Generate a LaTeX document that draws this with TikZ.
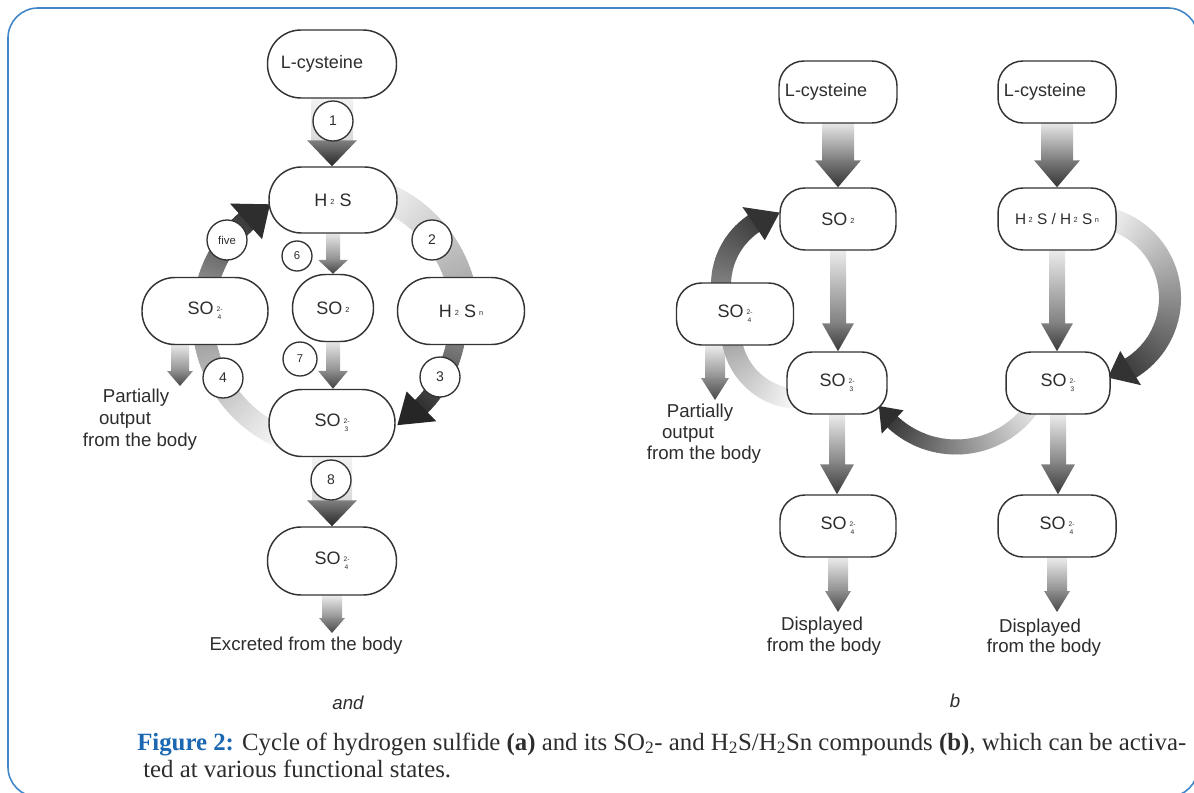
\documentclass[tikz,border=0pt]{standalone}
\usepackage{fontspec}
\setmainfont{Liberation Sans}
\newfontfamily\capfont{Liberation Serif}
\usetikzlibrary{calc}
\pgfdeclarelayer{bg}
\pgfsetlayers{bg,main}
\definecolor{figblue}{RGB}{28,103,178}
\definecolor{framblue}{RGB}{66,135,200}
\definecolor{txt}{RGB}{45,45,45}
\newcommand{\tsub}[1]{\,\raisebox{0.1em}{\fontsize{5.5}{5.5}\selectfont #1}}
\newcommand{\tion}[2]{\,\raisebox{-0.3em}{\fontsize{5}{4.6}\selectfont\shortstack{#1\\#2}}}
% gradient band along a circle arc: centre, radius, half width, start angle, end angle, start shade, end shade
\newcommand{\gband}[7]{%
  \pgfmathsetmacro{\gri}{#2-#3}%
  \pgfmathsetmacro{\gro}{#2+#3}%
  \pgfmathtruncatemacro{\gN}{max(2,int(abs(#5-#4)/1.5))}%
  \pgfmathsetmacro{\gS}{(#5-#4)/\gN}%
  \foreach \gi in {1,...,\gN}{%
    \pgfmathsetmacro{\ga}{#4+(\gi-1)*\gS}%
    \pgfmathsetmacro{\gb}{#4+\gi*\gS+0.4*sign(\gS)}%
    \pgfmathsetmacro{\gc}{#6+(#7-#6)*(\gi-0.5)/\gN}%
    \fill[black!\gc] ($(#1)+(\ga:\gri)$) -- ($(#1)+(\gb:\gri)$) -- ($(#1)+(\gb:\gro)$) -- ($(#1)+(\ga:\gro)$) -- cycle;
  }}
% arrow head on a circle arc: centre, radius, head half width, base angle, tip angle, shade
\newcommand{\ghead}[6]{%
  \pgfmathsetmacro{\hri}{#2-#3}%
  \pgfmathsetmacro{\hro}{#2+#3}%
  \fill[black!#6] ($(#1)+(#4:\hri)$) -- ($(#1)+(#5:#2)$) -- ($(#1)+(#4:\hro)$) -- cycle;}
% straight vertical gradient arrow: from, to, shaft hw, head hw, head length,
% shaft top shade, shaft bottom shade, head top shade, head tip shade
\newcommand{\garrow}[9]{%
  \path[top color=black!#6, bottom color=black!#7] let \p1=(#1), \p2=(#2) in
    (\x1-#3*0.75pt,\y1) rectangle (\x1+#3*0.75pt,\y2+#5*0.75pt-0.75pt);
  \path[top color=black!#8, bottom color=black!#9] let \p1=(#1), \p2=(#2) in
    (\x1-#4*0.75pt,\y2+#5*0.75pt) -- (\x1+#4*0.75pt,\y2+#5*0.75pt) -- (\x1,\y2) -- cycle;}
\begin{document}
\begin{tikzpicture}[x=0.75pt,y=-0.75pt,
  pill/.style n args={3}{draw=black!80, line width=1.1pt, fill=white, text=txt,
    minimum width=#1*0.75pt, minimum height=#2*0.75pt, rounded corners=#3*0.75pt,
    inner sep=0pt, font=\fontsize{13.5}{15}\selectfont},
  lab/.style={circle, draw=black!80, line width=1pt, fill=white, text=txt,
    minimum size=#1*0.75pt, inner sep=0pt, font=\fontsize{10.5}{11}\selectfont},
  note/.style={text=txt, inner sep=0pt, font=\fontsize{14}{15}\selectfont},
  captxt/.style={text=txt, inner sep=0pt, anchor=base west, font=\capfont\fontsize{18.6}{21}\selectfont}]
\useasboundingbox (0,0) rectangle (1194,792);
\clip (0,0) rectangle (1194,792);
\draw[framblue, line width=1.2pt, rounded corners=22.5pt] (8,8) rectangle (1198,797);

% ---------- (a) nodes ----------
\node[pill={129}{68}{33.5}] (lcysa) at (332,64) {L-cysteine\hspace*{15pt}};
\node[pill={128}{66}{32.5}] (h2s) at (333,200) {H\tsub{2} S};
\node[pill={126}{67}{33}] (so4l) at (205,311) {SO\tion{2-}{4}};
\node[pill={81}{67}{33}] (so2a) at (333,308) {SO\tsub{2}};
\node[pill={127}{67}{33}] (h2sn) at (461,311) {H\tsub{2} S\tsub{n}};
\node[pill={126}{67}{33}] (so3a) at (332,423) {SO\tion{2-}{3}};
\node[pill={129}{68}{33.5}] (so4a) at (332,561) {SO\tion{2-}{4}};
\coordinate (ca) at (333,318);
\coordinate (outa) at (180,386);
\coordinate (exca) at (333,633);
\node[note] (pa1) at (136,398) {Partially};
\node[note] (pa2) at (125,420) {output};
\node[note] (pa3) at (140,442) {from the body};
\node[note] (exc) at (306,646) {Excreted from the body};
\node[note, font=\fontsize{14}{15}\selectfont\itshape] (la) at (348,703) {and};

% ---------- (b) nodes ----------
\node[pill={118}{62}{25}] (lcys1) at (838,92) {L-cysteine\hspace*{18pt}};
\node[pill={118}{62}{25}] (lcys2) at (1057,92) {L-cysteine\hspace*{18pt}};
\node[pill={116}{62}{25}] (so2b) at (838,219) {SO\tsub{2}};
\node[pill={118}{62}{25}, font=\fontsize{11.5}{13}\selectfont] (h2sb) at (1057,219) {H\tsub{2} S / H\tsub{2} S\tsub{n}};
\node[pill={117}{62}{25}] (so4bl) at (735,314) {SO\tion{2-}{4}};
\node[pill={100}{62}{25}] (so3b1) at (837,383) {SO\tion{2-}{3}};
\node[pill={104}{62}{25}] (so3b2) at (1058,383) {SO\tion{2-}{3}};
\node[pill={116}{62}{25}] (so4b1) at (838,526) {SO\tion{2-}{4}};
\node[pill={118}{62}{25}] (so4b2) at (1057,526) {SO\tion{2-}{4}};
\coordinate (cb1) at (795,285);
\coordinate (cb2) at (800,330);
\coordinate (cb3) at (1088,298);
\coordinate (cb4) at (956,354);
\coordinate (outb) at (715,400);
\coordinate (disp1) at (838,612);
\coordinate (disp2) at (1057,612);
\node[note] (pb1) at (700,413) {Partially};
\node[note] (pb2) at (688,434) {output};
\node[note] (pb3) at (704,455) {from the body};
\node[note] (db1) at (822,626) {Displayed};
\node[note] (db2) at (824,647) {from the body};
\node[note] (dc1) at (1040,628) {Displayed};
\node[note] (dc2) at (1044,648) {from the body};
\node[note, font=\fontsize{14}{15}\selectfont\itshape] (lb) at (955,701) {b};

% ---------- connectors (behind nodes) ----------
\begin{pgfonlayer}{bg}
  % (a)
  \garrow{lcysa.south}{h2s.north}{21}{25}{26}{5}{15}{50}{85}
  \garrow{h2s.south}{so2a.north}{7}{15}{14}{10}{45}{45}{75}
  \garrow{so2a.south}{so3a.north}{7}{15}{18}{10}{45}{45}{75}
  \garrow{so3a.south}{so4a.north}{20}{25}{26}{5}{15}{50}{85}
  \garrow{so4l.south -| outa}{outa}{9}{13}{15}{10}{45}{45}{72}
  \garrow{so4a.south}{exca}{10}{13}{15}{8}{45}{45}{72}
  \gband{ca}{132}{14}{-72}{-5}{3}{38}
  \gband{ca}{125}{9}{5}{46}{45}{82}
  \ghead{ca}{125}{21}{45}{59}{85}
  \gband{ca}{130}{11}{172}{113}{38}{3}
  \gband{ca}{130}{11}{192}{229}{42}{78}
  \ghead{ca}{130}{24}{228}{241}{82}
  % (b)
  \garrow{lcys1.south}{so2b.north}{16}{23}{27}{10}{52}{52}{80}
  \garrow{lcys2.south}{h2sb.north}{16}{23}{27}{10}{52}{52}{80}
  \garrow{so2b.south}{so3b1.north}{8}{16}{28}{8}{50}{50}{78}
  \garrow{h2sb.south}{so3b2.north}{8}{16}{28}{8}{50}{50}{78}
  \garrow{so3b1.south}{so4b1.north}{8}{17}{30}{8}{50}{50}{78}
  \garrow{so3b2.south}{so4b2.north}{8}{17}{30}{8}{50}{50}{78}
  \garrow{so4b1.south}{disp1}{10}{13}{21}{8}{45}{45}{72}
  \garrow{so4b2.south}{disp2}{10}{13}{21}{8}{45}{45}{72}
  \garrow{so4bl.south -| outb}{outb}{10}{14}{22}{8}{45}{45}{72}
  \gband{cb1}{74}{10}{170}{237}{45}{75}
  \ghead{cb1}{74}{20}{236}{258}{80}
  \gband{cb2}{69}{10}{170}{95}{35}{3}
  \gband{cb3}{82}{11}{-75}{59}{5}{75}
  \ghead{cb3}{82}{20}{58.7}{76}{80}
  \gband{cb4}{93}{7.5}{30}{134}{5}{78}
  \ghead{cb4}{93}{16}{133}{146}{82}
\end{pgfonlayer}

% ---------- step labels ----------
\node[lab=40] (s1) at (333,121) {1};
\node[lab=40] (s2) at (432,240) {2};
\node[lab=40] (s3) at (440,377) {3};
\node[lab=40] (s4) at (223,378) {4};
\node[lab=40, font=\fontsize{8.5}{9}\selectfont] (s5) at (227,240) {five};
\node[lab=30, font=\fontsize{8.5}{9}\selectfont] (s6) at (297,256) {6};
\node[lab=34, font=\fontsize{8.5}{9}\selectfont] (s7) at (300,359) {7};
\node[lab=40] (s8) at (331,480) {8};

% ---------- caption ----------
\node[captxt] (cap1) at (137,750) {{\color{figblue}\bfseries Figure 2:} Cycle of hydrogen sulfide \textbf{(a)} and its SO\textsubscript{2}- and H\textsubscript{2}S/H\textsubscript{2}Sn compounds \textbf{(b)}, which can be activa-};
\node[captxt] (cap2) at (143,777) {ted at various functional states.};
\end{tikzpicture}
\end{document}
